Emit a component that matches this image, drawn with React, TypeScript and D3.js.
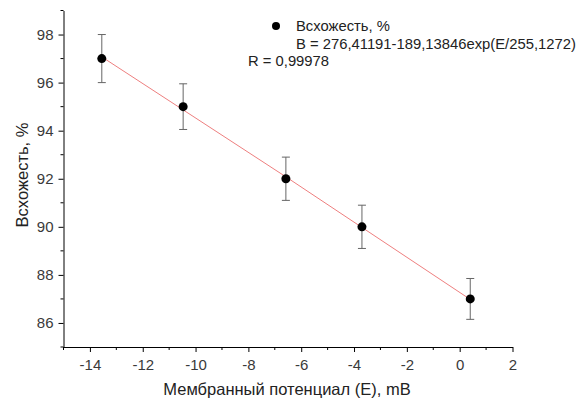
import React, { useEffect, useRef } from "react";
import * as d3 from "d3";

// measured data: membrane potential (mV), germination (%), error
const potential = [-13.55, -10.47, -6.58, -3.7, 0.4];
const germination = [97, 95, 92, 90, 87];
const errors = [1.0, 0.95, 0.9, 0.9, 0.85];

// fitted line points
const fitX = [-13.55, -6.58, 0.4];
const fitY = [97.07, 92.08, 86.98];

const xTicks = [-14, -12, -10, -8, -6, -4, -2, 0, 2];
const yTicks = [86, 88, 90, 92, 94, 96, 98];

const legendLines = ["Всхожесть, %", "B = 276,41191-189,13846exp(E/255,1272)"];
const rText = "R = 0,99978";

const W = 585;
const H = 399;

const App: React.FC = () => {
  const ref = useRef<SVGSVGElement | null>(null);

  useEffect(() => {
    if (!ref.current) return;
    const svg = d3.select(ref.current);
    svg.selectAll("*").remove();
    const font = "Liberation Sans, Arial, sans-serif";

    const x = d3.scaleLinear().domain([-15, 2]).range([63.5, 512.5]);
    const y = d3.scaleLinear().domain([85, 99]).range([347, 10.5]);

    const g = svg.append("g");

    // axes
    const xAxis = d3
      .axisBottom(x)
      .tickValues(xTicks)
      .tickSize(5)
      .tickSizeOuter(0)
      .tickPadding(7)
      .tickFormat((d) => String(d));
    const gx = g.append("g").attr("transform", `translate(0,${y(85)})`).call(xAxis);
    gx.selectAll("text").style("font-size", "15px").style("font-family", font).attr("fill", "#3a3a3a");

    const xMinor = d3.range(-15, 2, 2);
    gx.selectAll(".minor")
      .data(xMinor)
      .enter()
      .append("line")
      .attr("x1", (d) => x(d))
      .attr("x2", (d) => x(d))
      .attr("y1", 0)
      .attr("y2", 3)
      .attr("stroke", "#000");

    const yAxis = d3
      .axisLeft(y)
      .tickValues(yTicks)
      .tickSize(5)
      .tickSizeOuter(0)
      .tickPadding(5);
    const gy = g.append("g").attr("transform", `translate(${x(-15)},0)`).call(yAxis);
    gy.selectAll("text").style("font-size", "15px").style("font-family", font).attr("fill", "#3a3a3a");

    const yMinor = d3.range(85, 100, 2);
    gy.selectAll(".minor")
      .data(yMinor)
      .enter()
      .append("line")
      .attr("x1", 0)
      .attr("x2", -3)
      .attr("y1", (d) => y(d))
      .attr("y2", (d) => y(d))
      .attr("stroke", "#000");

    g.selectAll(".domain").attr("stroke", "#000");

    // fit line
    const line = d3
      .line<number>()
      .x((d) => x(d))
      .y((_, i) => y(fitY[i]));
    g.append("path")
      .datum(fitX)
      .attr("d", line)
      .attr("fill", "none")
      .attr("stroke", "#ee7f7f")
      .attr("stroke-width", 1);

    // error bars
    const eb = g.append("g").attr("stroke", "#666").attr("stroke-width", 1);
    potential.forEach((p, i) => {
      const cx = x(p);
      const top = y(germination[i] + errors[i]);
      const bot = y(germination[i] - errors[i]);
      eb.append("line").attr("x1", cx).attr("x2", cx).attr("y1", top).attr("y2", bot);
      eb.append("line").attr("x1", cx - 4).attr("x2", cx + 4).attr("y1", top).attr("y2", top);
      eb.append("line").attr("x1", cx - 4).attr("x2", cx + 4).attr("y1", bot).attr("y2", bot);
    });

    // points
    g.selectAll(".pt")
      .data(potential)
      .enter()
      .append("circle")
      .attr("cx", (d) => x(d))
      .attr("cy", (_, i) => y(germination[i]))
      .attr("r", 4.5)
      .attr("fill", "#000");

    // axis titles
    svg
      .append("text")
      .attr("x", 287)
      .attr("y", 395)
      .attr("text-anchor", "middle")
      .style("font-family", font)
      .style("font-size", "16.5px")
      .attr("fill", "#222")
      .text("Мембранный потенциал (E), mB");

    svg
      .append("text")
      .attr("transform", `translate(28,175) rotate(-90)`)
      .attr("text-anchor", "middle")
      .style("font-family", font)
      .style("font-size", "16.5px")
      .attr("fill", "#222")
      .text("Всхожесть, %");

    // legend
    const leg = svg.append("g").style("font-family", font).style("font-size", "14.8px").attr("fill", "#222");
    leg.append("circle").attr("cx", 276).attr("cy", 26).attr("r", 4).attr("fill", "#000");
    legendLines.forEach((t, i) => {
      leg.append("text").attr("x", 296).attr("y", 31 + i * 18).text(t);
    });
    leg.append("text").attr("x", 248).attr("y", 66).text(rText);
  }, []);

  return (
    <svg
      ref={ref}
      width={W}
      height={H}
      style={{ position: "absolute", left: 0, top: 0, background: "#fff" }}
    />
  );
};

export default App;
